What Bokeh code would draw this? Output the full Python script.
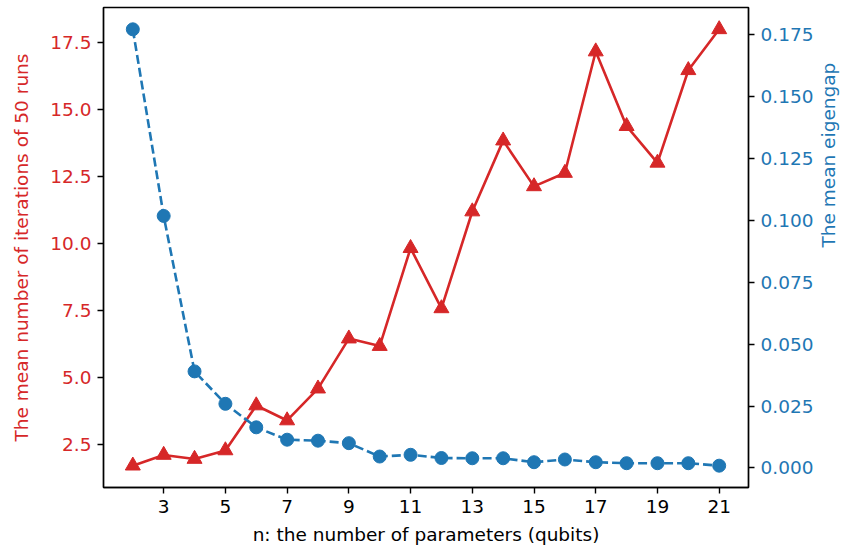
import math
from bokeh.plotting import figure
from bokeh.models import Range1d, LinearAxis, FixedTicker, PrintfTickFormatter
from bokeh.embed import file_html
from bokeh.resources import INLINE

n_qubits = [2, 3, 4, 5, 6, 7, 8, 9, 10, 11, 12, 13, 14, 15, 16, 17, 18, 19, 20, 21]
mean_iterations = [1.70, 2.10, 1.95, 2.27, 3.95, 3.39, 4.58, 6.45, 6.17, 9.83,
                   7.58, 11.20, 13.85, 12.14, 12.64, 17.18, 14.39, 13.02, 16.48, 18.01]
mean_eigengap = [0.1772, 0.1018, 0.0390, 0.0259, 0.0164, 0.0114, 0.0110, 0.0100, 0.0046, 0.0053,
                 0.0040, 0.0039, 0.0039, 0.0023, 0.0034, 0.0023, 0.0019, 0.0019, 0.0019, 0.0009]
x_ticks = [3, 5, 7, 9, 11, 13, 15, 17, 19, 21]
left_ticks = [2.5, 5.0, 7.5, 10.0, 12.5, 15.0, 17.5]
right_ticks = [0.0, 0.025, 0.05, 0.075, 0.1, 0.125, 0.15, 0.175]

RED = "#d62728"
BLUE = "#1f77b4"
FONT = "DejaVu Sans"
FS = "18.5px"

def pad(vals, frac=0.05):
    lo, hi = min(vals), max(vals)
    m = (hi - lo) * frac
    return lo - m, hi + m

x0, x1 = pad(n_qubits)
y0, y1 = pad(mean_iterations)
r0, r1 = pad(mean_eigengap)

p = figure(width=852, height=550, output_backend="svg", toolbar_location=None,
           x_range=Range1d(x0, x1), y_range=Range1d(y0, y1),
           min_border_left=103, min_border_right=104, min_border_top=7, min_border_bottom=63)
p.extra_y_ranges = {"right": Range1d(r0, r1)}
p.xgrid.visible = False
p.ygrid.visible = False
p.outline_line_color = "black"
p.outline_line_width = 1.4
p.outline_line_alpha = 1.0
p.background_fill_color = "white"
p.border_fill_color = "white"

p.line(n_qubits, mean_iterations, line_color=RED, line_width=2.6)
p.scatter(n_qubits, mean_iterations, marker="triangle", size=15, fill_color=RED, line_color=RED)

p.line(n_qubits, mean_eigengap, y_range_name="right", line_color=BLUE, line_width=2.6, line_dash="9 4")
p.scatter(n_qubits, mean_eigengap, y_range_name="right", marker="circle", size=13,
          fill_color=BLUE, line_color=BLUE)

right_axis = LinearAxis(y_range_name="right")
p.add_layout(right_axis, "right")

xa = p.xaxis[0]
ya = p.yaxis[0]

for ax in (xa, ya, right_axis):
    ax.axis_line_color = "black"
    ax.axis_line_width = 1.4
    ax.major_tick_line_color = "black"
    ax.major_tick_line_width = 1.4
    ax.major_tick_out = 6
    ax.major_tick_in = 0
    ax.minor_tick_line_color = None
    ax.major_label_text_font = FONT
    ax.major_label_text_font_size = FS
    ax.major_label_standoff = 6
    ax.axis_label_text_font = FONT
    ax.axis_label_text_font_size = FS
    ax.axis_label_text_font_style = "normal"
    ax.axis_label_standoff = 8

xa.ticker = FixedTicker(ticks=x_ticks)
xa.axis_label = "n: the number of parameters (qubits)"
xa.major_label_text_color = "black"
xa.axis_label_text_color = "black"
xa.axis_label_standoff = 8

ya.ticker = FixedTicker(ticks=left_ticks)
ya.formatter = PrintfTickFormatter(format="%.1f")
ya.axis_label = "The mean number of iterations of 50 runs"
ya.major_label_text_color = RED
ya.axis_label_text_color = RED
ya.axis_label_standoff = 15

right_axis.ticker = FixedTicker(ticks=right_ticks)
right_axis.formatter = PrintfTickFormatter(format="%.3f")
right_axis.axis_label = "The mean eigengap"
right_axis.major_label_text_color = BLUE
right_axis.axis_label_text_color = BLUE
right_axis.axis_label_orientation = math.pi / 2
right_axis.axis_label_standoff = 12

open("out.html", "w").write(file_html(p, INLINE))
